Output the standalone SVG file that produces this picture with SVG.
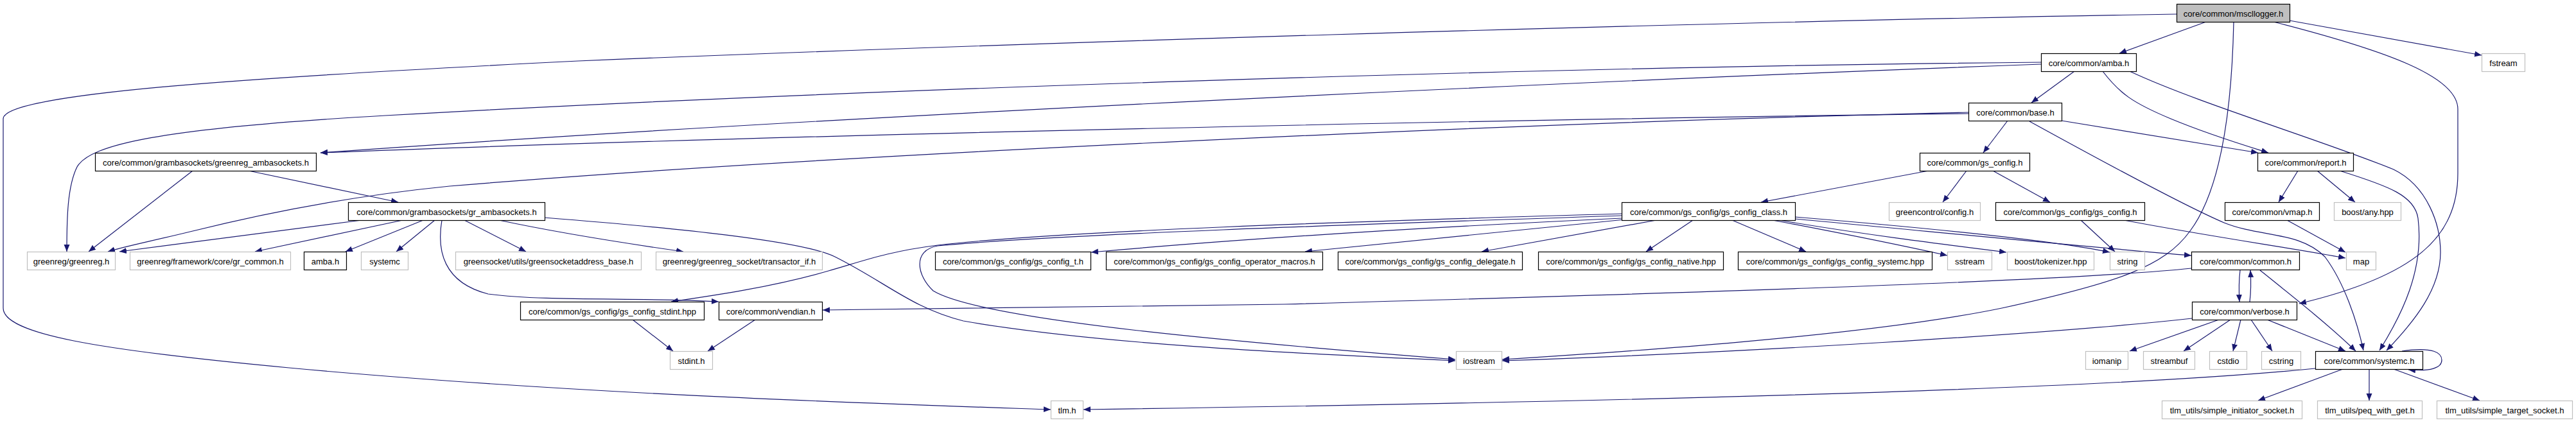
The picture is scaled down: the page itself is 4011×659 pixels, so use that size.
<svg xmlns="http://www.w3.org/2000/svg" width="4011" height="659" viewBox="0 0 4011 659">
<defs>
<marker id="a" markerWidth="12" markerHeight="10" refX="11" refY="4.5" orient="auto" markerUnits="userSpaceOnUse"><path d="M0,0 L11,4.5 L0,9 z" fill="#191970"/></marker>
<style>
rect{fill:#fff;stroke:#000;stroke-width:1.2}
.x rect{stroke:#bfbfbf}
.r rect{fill:#bfbfbf}
text{font-family:"Liberation Sans",Arial,sans-serif;font-size:13px;text-anchor:middle;fill:#000}
#edges path{fill:none;stroke:#191970;stroke-width:1.2;marker-end:url(#a)}
</style>
</defs>
<rect x="0" y="0" width="4011" height="659" style="fill:#fff;stroke:none"/>
<g id="edges">
<path d="M3435,34 L3300,83"/>
<path d="M3389,22 C2600,35 1500,70 900,95 C400,120 5,145 5,185 L5,480 C5,520 150,545 450,573 C900,615 1400,630 1636,638"/>
<path d="M3478,34 C3475,180 3455,300 3410,360 C3370,415 3300,440 3117,480 C2900,525 2500,550 2339,560"/>
<path d="M3540,34 C3720,80 3827,120 3827,170 L3827,270 C3827,370 3760,430 3580,473"/>
<path d="M3565,32 L3864,86"/>
<path d="M3230,111 L3163,160"/>
<path d="M3274,111 C3300,145 3320,160 3380,185 C3440,210 3500,228 3532,238"/>
<path d="M3316,111 C3420,160 3620,220 3727,264 C3780,290 3800,350 3800,393 C3800,450 3760,500 3716,546"/>
<path d="M3065,177 C2400,185 1200,210 499,238"/>
<path d="M3178,100 C2500,125 1300,180 499,238"/>
<path d="M3178,97 C2400,104 1300,140 600,180 C250,200 140,225 120,260 C105,290 104,340 104,392"/>
<path d="M3065,175 C2400,190 1300,240 700,290 C550,305 420,330 300,360 C230,377 190,385 168,392"/>
<path d="M3126,188 L3088,238"/>
<path d="M3210,188 L3516,238"/>
<path d="M3160,189 C3280,255 3400,320 3463,347 C3520,370 3580,360 3620,400 C3650,440 3670,500 3680,546"/>
<path d="M3003,266 L2742,315"/>
<path d="M3062,266 L3025,315"/>
<path d="M3103,266 L3192,315"/>
<path d="M3578,266 L3548,315"/>
<path d="M3608,266 L3667,315"/>
<path d="M3643,266 C3720,290 3760,305 3765,340 C3775,420 3740,490 3705,546"/>
<path d="M3240,343 L3293,392"/>
<path d="M3307,343 C3450,370 3560,385 3652,402"/>
<path d="M3561,343 L3652,393"/>
<path d="M2525,340 C2200,355 1900,375 1699,393"/>
<path d="M2530,342 L2032,392"/>
<path d="M2579,343 L2307,392"/>
<path d="M2636,343 L2563,392"/>
<path d="M2697,343 L2812,392"/>
<path d="M2760,343 C2850,360 2950,380 3032,398"/>
<path d="M2770,343 C2900,365 3020,380 3124,393"/>
<path d="M2795,338 C3000,355 3200,375 3285,393"/>
<path d="M2795,341 C3000,360 3250,385 3412,398"/>
<path d="M2525,333 C2100,345 1650,360 1460,382 C1380,392 1340,408 1290,422 C1200,448 1100,462 1045,470"/>
<path d="M2525,336 C2100,350 1650,365 1460,383 C1420,390 1428,430 1453,453 C1530,500 1950,535 2266,560"/>
<path d="M848,339 C1050,355 1250,375 1300,400 C1380,440 1420,480 1500,500 C1700,535 2000,550 2266,562"/>
<path d="M563,343 L186,392"/>
<path d="M627,343 L397,392"/>
<path d="M659,343 L538,392"/>
<path d="M677,343 L617,392"/>
<path d="M723,343 L819,392"/>
<path d="M777,343 C880,365 980,380 1064,392"/>
<path d="M688,343 C680,390 690,440 760,458 C850,470 1000,463 1119,470"/>
<path d="M300,266 L138,392"/>
<path d="M387,266 L620,315"/>
<path d="M3412,418 C3200,440 2500,460 2000,474 C1700,480 1450,483 1281,483"/>
<path d="M1176,498 L1102,547"/>
<path d="M985,498 L1048,547"/>
<path d="M3488,421 C3486,437 3486,452 3487,470"/>
<path d="M3503,470 C3505,454 3505,438 3504,421"/>
<path d="M3519,421 C3580,470 3630,510 3668,547"/>
<path d="M3455,498 L3316,547"/>
<path d="M3473,498 L3400,547"/>
<path d="M3489,498 L3477,547"/>
<path d="M3505,498 L3538,547"/>
<path d="M3530,498 L3652,547"/>
<path d="M3413,496 C3200,520 2700,550 2339,562"/>
<path d="M3740,547 C3790,540 3802,550 3802,561 C3802,573 3785,579 3750,576"/>
<path d="M3605,574 C3300,605 2600,625 1687,638"/>
<path d="M3648,575 L3516,624"/>
<path d="M3689,575 L3689,624"/>
<path d="M3727,575 L3861,624"/>
</g>
<g id="n-mscllogger" class="r"><rect x="3389.5" y="6.5" width="176" height="28"/><text x="3477.5" y="25.5">core/common/mscllogger.h</text></g>
<g id="n-amba"><rect x="3178.5" y="83.5" width="148" height="28"/><text x="3252.5" y="102.5">core/common/amba.h</text></g>
<g id="n-fstream" class="x"><rect x="3864.5" y="83.5" width="67" height="28"/><text x="3898" y="102.5">fstream</text></g>
<g id="n-base"><rect x="3065.5" y="160.5" width="145" height="28"/><text x="3138" y="179.5">core/common/base.h</text></g>
<g id="n-greenreg-amba"><rect x="148.5" y="238.5" width="344" height="28"/><text x="320.5" y="257.5">core/common/grambasockets/greenreg_ambasockets.h</text></g>
<g id="n-gsconfig"><rect x="2989.5" y="238.5" width="171" height="28"/><text x="3075" y="257.5">core/common/gs_config.h</text></g>
<g id="n-report"><rect x="3515.5" y="238.5" width="149" height="28"/><text x="3590" y="257.5">core/common/report.h</text></g>
<g id="n-gr-amba"><rect x="542.5" y="315.5" width="306" height="28"/><text x="695.5" y="334.5">core/common/grambasockets/gr_ambasockets.h</text></g>
<g id="n-gsclass"><rect x="2525.5" y="315.5" width="270" height="28"/><text x="2660.5" y="334.5">core/common/gs_config/gs_config_class.h</text></g>
<g id="n-gcconfig" class="x"><rect x="2941.5" y="315.5" width="142" height="28"/><text x="3012.5" y="334.5">greencontrol/config.h</text></g>
<g id="n-gsgs"><rect x="3107.5" y="315.5" width="232" height="28"/><text x="3223.5" y="334.5">core/common/gs_config/gs_config.h</text></g>
<g id="n-vmap"><rect x="3464.5" y="315.5" width="147" height="28"/><text x="3538" y="334.5">core/common/vmap.h</text></g>
<g id="n-any" class="x"><rect x="3634.5" y="315.5" width="104" height="28"/><text x="3686.5" y="334.5">boost/any.hpp</text></g>
<g id="n-greenreg" class="x"><rect x="42.5" y="392.5" width="137" height="28"/><text x="111" y="411.5">greenreg/greenreg.h</text></g>
<g id="n-grcommon" class="x"><rect x="202.5" y="392.5" width="250" height="28"/><text x="327.5" y="411.5">greenreg/framework/core/gr_common.h</text></g>
<g id="n-ambah"><rect x="473.5" y="392.5" width="66" height="28"/><text x="506.5" y="411.5">amba.h</text></g>
<g id="n-systemc" class="x"><rect x="562.5" y="392.5" width="73" height="28"/><text x="599" y="411.5">systemc</text></g>
<g id="n-gsaddr" class="x"><rect x="709.5" y="392.5" width="289" height="28"/><text x="854" y="411.5">greensocket/utils/greensocketaddress_base.h</text></g>
<g id="n-transactor" class="x"><rect x="1021.5" y="392.5" width="259" height="28"/><text x="1151" y="411.5">greenreg/greenreg_socket/transactor_if.h</text></g>
<g id="n-gst"><rect x="1456.5" y="392.5" width="242" height="28"/><text x="1577.5" y="411.5">core/common/gs_config/gs_config_t.h</text></g>
<g id="n-gsop"><rect x="1722.5" y="392.5" width="337" height="28"/><text x="1891" y="411.5">core/common/gs_config/gs_config_operator_macros.h</text></g>
<g id="n-gsdel"><rect x="2083.5" y="392.5" width="287" height="28"/><text x="2227" y="411.5">core/common/gs_config/gs_config_delegate.h</text></g>
<g id="n-gsnat"><rect x="2395.5" y="392.5" width="288" height="28"/><text x="2539.5" y="411.5">core/common/gs_config/gs_config_native.hpp</text></g>
<g id="n-gssc"><rect x="2706.5" y="392.5" width="302" height="28"/><text x="2857.5" y="411.5">core/common/gs_config/gs_config_systemc.hpp</text></g>
<g id="n-sstream" class="x"><rect x="3032.5" y="392.5" width="69" height="28"/><text x="3067" y="411.5">sstream</text></g>
<g id="n-tokenizer" class="x"><rect x="3125.5" y="392.5" width="135" height="28"/><text x="3193" y="411.5">boost/tokenizer.hpp</text></g>
<g id="n-string" class="x"><rect x="3285.5" y="392.5" width="54" height="28"/><text x="3312.5" y="411.5">string</text></g>
<g id="n-common"><rect x="3412.5" y="392.5" width="168" height="28"/><text x="3496.5" y="411.5">core/common/common.h</text></g>
<g id="n-map" class="x"><rect x="3653.5" y="392.5" width="46" height="28"/><text x="3676.5" y="411.5">map</text></g>
<g id="n-gsstdint"><rect x="810.5" y="470.5" width="286" height="28"/><text x="953.5" y="489.5">core/common/gs_config/gs_config_stdint.hpp</text></g>
<g id="n-vendian"><rect x="1119.5" y="470.5" width="161" height="28"/><text x="1200" y="489.5">core/common/vendian.h</text></g>
<g id="n-verbose"><rect x="3413.5" y="470.5" width="163" height="28"/><text x="3495" y="489.5">core/common/verbose.h</text></g>
<g id="n-stdint" class="x"><rect x="1043.5" y="547.5" width="66" height="28"/><text x="1076.5" y="566.5">stdint.h</text></g>
<g id="n-iostream" class="x"><rect x="2267.5" y="547.5" width="71" height="28"/><text x="2303" y="566.5">iostream</text></g>
<g id="n-iomanip" class="x"><rect x="3247.5" y="547.5" width="66" height="28"/><text x="3280.5" y="566.5">iomanip</text></g>
<g id="n-streambuf" class="x"><rect x="3337.5" y="547.5" width="80" height="28"/><text x="3377.5" y="566.5">streambuf</text></g>
<g id="n-cstdio" class="x"><rect x="3440.5" y="547.5" width="58" height="28"/><text x="3469.5" y="566.5">cstdio</text></g>
<g id="n-cstring" class="x"><rect x="3521.5" y="547.5" width="61" height="28"/><text x="3552" y="566.5">cstring</text></g>
<g id="n-systemch"><rect x="3605.5" y="547.5" width="167" height="28"/><text x="3689" y="566.5">core/common/systemc.h</text></g>
<g id="n-tlm" class="x"><rect x="1636.5" y="624.5" width="50" height="28"/><text x="1661.5" y="643.5">tlm.h</text></g>
<g id="n-init" class="x"><rect x="3366.5" y="624.5" width="218" height="28"/><text x="3475.5" y="643.5">tlm_utils/simple_initiator_socket.h</text></g>
<g id="n-peq" class="x"><rect x="3608.5" y="624.5" width="163" height="28"/><text x="3690" y="643.5">tlm_utils/peq_with_get.h</text></g>
<g id="n-target" class="x"><rect x="3794.5" y="624.5" width="211" height="28"/><text x="3900" y="643.5">tlm_utils/simple_target_socket.h</text></g>
</svg>
